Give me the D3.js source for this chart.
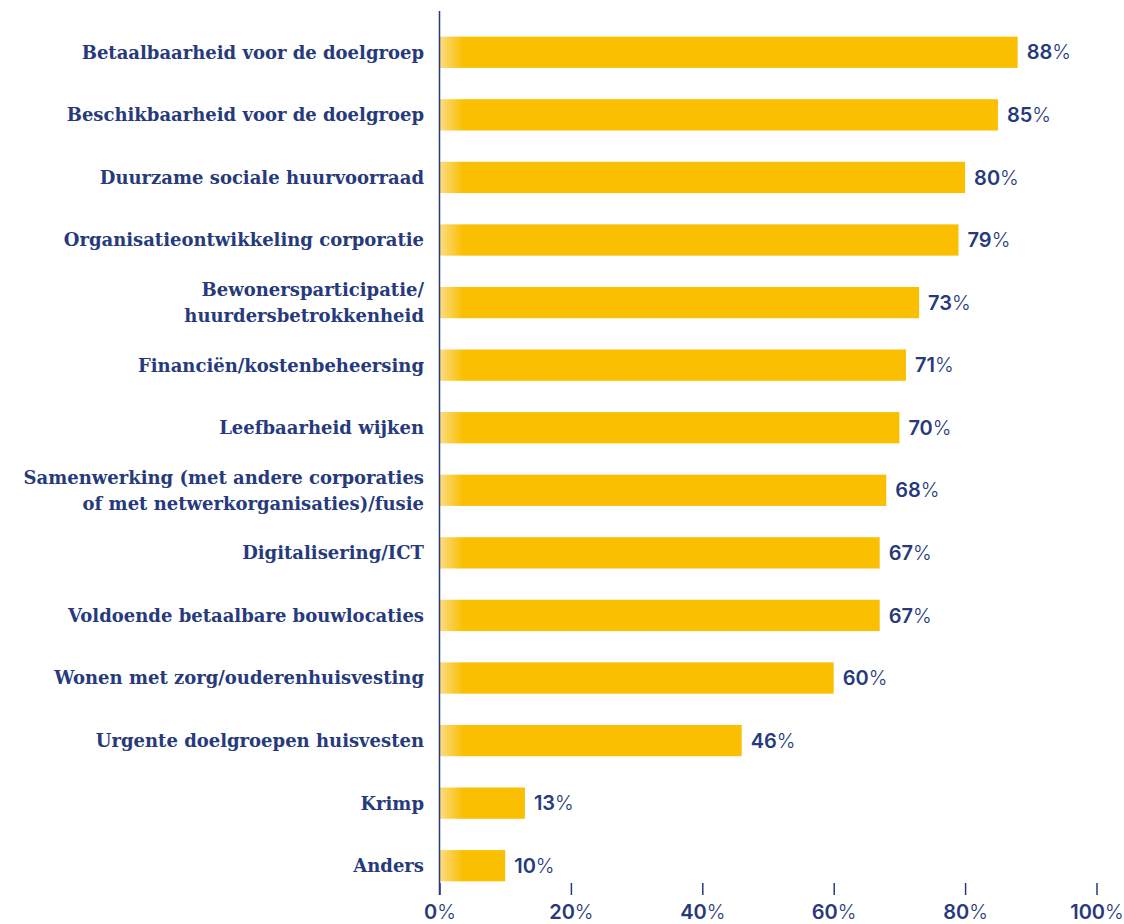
<!DOCTYPE html>
<html>
<head>
<meta charset="utf-8">
<script src="https://cdn.jsdelivr.net/npm/d3@7"></script>
<style>
  body { margin: 0; background: #fff; }
  svg { display: block; }
</style>
</head>
<body>
<svg id="chart" width="1124" height="924"></svg>
<script>
// Topics (labels may span two lines) and the share of respondents per topic
const categories = [
  ["Betaalbaarheid voor de doelgroep"],
  ["Beschikbaarheid voor de doelgroep"],
  ["Duurzame sociale huurvoorraad"],
  ["Organisatieontwikkeling corporatie"],
  ["Bewonersparticipatie/", "huurdersbetrokkenheid"],
  ["Financiën/kostenbeheersing"],
  ["Leefbaarheid wijken"],
  ["Samenwerking (met andere corporaties", "of met netwerkorganisaties)/fusie"],
  ["Digitalisering/ICT"],
  ["Voldoende betaalbare bouwlocaties"],
  ["Wonen met zorg/ouderenhuisvesting"],
  ["Urgente doelgroepen huisvesten"],
  ["Krimp"],
  ["Anders"]
];
const values = [88, 85, 80, 79, 73, 71, 70, 68, 67, 67, 60, 46, 13, 10];
const tickValues = [0, 20, 40, 60, 80, 100];

const navy = "#263a7c";
const gold = "#f9bf00";
const sans = "Inter, Roboto, Liberation Sans, Arial, sans-serif";

const svg = d3.select("#chart");
const x0 = 439.5, x1 = 1096.5;
const x = d3.scaleLinear().domain([0, 100]).range([x0, x1]);
const y = d3.scaleBand()
  .domain(d3.range(categories.length))
  .range([21, 897])
  .paddingInner(0.5)
  .paddingOuter(0.25);

// soft fade at the root of each bar
const defs = svg.append("defs");
const grad = defs.append("linearGradient")
  .attr("id", "barFade")
  .attr("gradientUnits", "userSpaceOnUse")
  .attr("x1", x0).attr("x2", x0 + 24)
  .attr("y1", 0).attr("y2", 0);
grad.append("stop").attr("offset", 0).attr("stop-color", "#fcdc84");
grad.append("stop").attr("offset", 1).attr("stop-color", gold);

// bars
svg.append("g").selectAll("rect")
  .data(values)
  .join("rect")
  .attr("x", x(0))
  .attr("y", (d, i) => y(i))
  .attr("width", d => x(d) - x(0))
  .attr("height", y.bandwidth())
  .attr("fill", "url(#barFade)");

// value labels: bold number, light percent sign
const vl = svg.append("g").selectAll("text")
  .data(values)
  .join("text")
  .attr("x", d => x(d) + 9)
  .attr("y", (d, i) => y(i) + y.bandwidth() / 2)
  .attr("dy", "0.36em")
  .attr("fill", navy)
  .attr("font-family", sans)
  .attr("font-size", 20);
vl.append("tspan").attr("font-weight", 600).text(d => d);
vl.append("tspan").attr("font-weight", 300).text("%");

// category labels
const cl = svg.append("g").selectAll("text")
  .data(categories)
  .join("text")
  .attr("x", 424)
  .attr("y", (d, i) => y(i) + y.bandwidth() / 2)
  .attr("text-anchor", "end")
  .attr("fill", navy)
  .attr("font-family", "DejaVu Serif, serif")
  .attr("font-weight", 700)
  .attr("font-size", 18);
cl.each(function(lines) {
  const t = d3.select(this);
  const lh = 26;
  const start = -(lines.length - 1) * lh / 2;
  lines.forEach((ln, j) => {
    t.append("tspan")
      .attr("x", 424)
      .attr("dy", j === 0 ? (start + 0.36 * 18) + "px" : lh + "px")
      .text(ln);
  });
});

// x axis
const axis = d3.axisBottom(x)
  .tickValues(tickValues)
  .tickSize(12)
  .tickPadding(10)
  .tickFormat(d => d + "%");
const ax = svg.append("g")
  .attr("transform", "translate(0,883)")
  .call(axis);
ax.select(".domain").remove();
ax.selectAll(".tick line").attr("stroke", navy).attr("stroke-width", 1.5);
ax.selectAll(".tick text")
  .attr("fill", navy)
  .attr("font-family", sans)
  .attr("font-size", 20)
  .each(function(d) {
    const t = d3.select(this);
    t.text(null);
    t.append("tspan").attr("font-weight", 600).text(d);
    t.append("tspan").attr("font-weight", 300).text("%");
  });

// vertical baseline
svg.append("line")
  .attr("x1", x0).attr("x2", x0)
  .attr("y1", 11).attr("y2", 895)
  .attr("stroke", navy)
  .attr("stroke-width", 1.5);
</script>
</body>
</html>
